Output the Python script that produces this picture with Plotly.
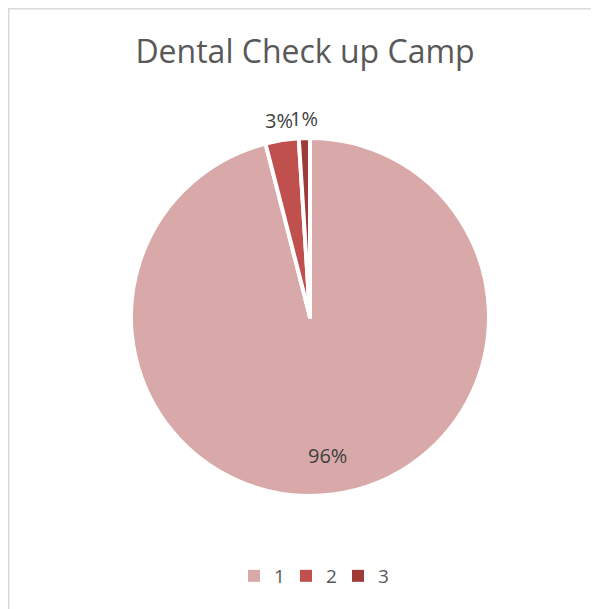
import math
import plotly.graph_objects as go

categories = ["1", "2", "3"]
values = [96, 3, 1]
colors = ["#D9A9A9", "#C0504D", "#9E3B39"]
title_text = "Dental Check up Camp"

# page has an 8px body margin, so the figure is sized to fit the window
W, H = 591, 601
L, T, D = 123, 130, 358
R, B = W - L - D, H - T - D

def px_x(x):
    return (x - L) / D

def px_y(y):
    return (H - B - y) / D

common = dict(labels=categories, values=values, sort=False,
              direction="clockwise", rotation=0, textinfo="none")

fig = go.Figure()
# base pie (no slice borders) provides the full-size legend squares
fig.add_trace(go.Pie(marker=dict(colors=colors, line=dict(width=0)),
                     hoverinfo="skip", showlegend=True, **common))
# same pie drawn on top with the white slice separators
fig.add_trace(go.Pie(marker=dict(colors=colors, line=dict(color="white", width=4)),
                     hoverinfo="label+percent", showlegend=False, **common))

# data labels placed from the slice angles
total = sum(values)
annotations = []
cum = 0.0
for v in values:
    frac = v / total
    mid = (cum + frac / 2) * 2 * math.pi
    cum += frac
    inside = frac > 0.5
    k = 0.78 if inside else 1.11
    annotations.append(dict(
        x=0.5 + 0.5 * k * math.sin(mid),
        y=0.5 + 0.5 * k * math.cos(mid),
        xref="paper", yref="paper",
        text=f"{round(frac * 100)}%",
        showarrow=False, xanchor="center", yanchor="middle",
        font=dict(family="Open Sans", size=20, color="#404040"),
    ))

fig.update_layout(
    width=W, height=H,
    margin=dict(l=L, r=R, t=T, b=B),
    paper_bgcolor="white",
    plot_bgcolor="white",
    title=dict(text=title_text, x=297 / W, xanchor="center",
               y=1 - 44 / H, yanchor="middle", yref="container", xref="container",
               font=dict(family="Open Sans", size=32, color="#595959")),
    legend=dict(orientation="h", x=px_x(304), xanchor="center",
                y=px_y(568), yanchor="middle", entrywidth=7, entrywidthmode="pixels",
                font=dict(family="Open Sans", size=19, color="#595959")),
    annotations=annotations,
    shapes=[dict(type="rect", xref="paper", yref="paper",
                 x0=px_x(0.75), x1=px_x(600), y0=px_y(606), y1=px_y(0.75),
                 line=dict(color="#D9D9D9", width=1.5), fillcolor="rgba(0,0,0,0)",
                 layer="below")],
)

fig.write_html("out.html")
